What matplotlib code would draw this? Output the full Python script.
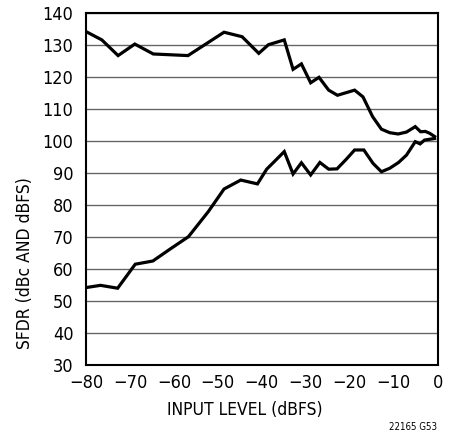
import matplotlib.pyplot as plt

plt.rcParams['font.family'] = ['DejaVu Sans']
plt.rcParams['font.stretch'] = 'condensed'

# SFDR in dBFS (upper trace)
x_dbfs = [-80, -76.4, -72.7, -68.9, -64.7, -56.8, -48.6, -44.5, -40.7, -38.5,
          -34.9, -32.9, -31.0, -28.9, -27.0, -24.8, -22.8, -18.9, -17.0, -14.8,
          -12.8, -10.9, -9.0, -7.1, -5.1, -3.9, -2.8, -1.8, -0.7]
sfdr_dbfs = [134.1, 131.5, 126.6, 130.2, 127.1, 126.6, 133.9, 132.5, 127.3, 130.0,
             131.5, 122.3, 124.0, 118.1, 119.8, 115.8, 114.2, 115.8, 113.7, 107.5,
             103.6, 102.5, 102.1, 102.7, 104.4, 102.8, 102.9, 102.3, 101.3]

# SFDR in dBc (lower trace)
x_dbc = [-80, -76.7, -72.8, -68.8, -64.8, -60.8, -56.7, -52.2, -48.6, -44.8,
         -41.0, -38.9, -37.0, -34.9, -32.9, -31.0, -28.9, -26.8, -24.8, -22.9,
         -20.8, -18.9, -16.8, -14.7, -12.8, -10.9, -8.9, -7.1, -5.1, -4.0,
         -3.0, -0.7]
sfdr_dbc = [54.1, 54.8, 53.9, 61.4, 62.4, 66.2, 70.0, 77.8, 84.9, 87.7,
            86.5, 91.1, 93.7, 96.6, 89.6, 93.1, 89.3, 93.2, 91.1, 91.2,
            94.2, 97.1, 97.1, 92.9, 90.3, 91.4, 93.2, 95.5, 99.7, 99.0,
            100.2, 100.7]

fig = plt.figure(figsize=(4.54, 4.37), dpi=100)
ax = fig.add_axes([86 / 454, 1 - 364.7 / 437, 351.7 / 454, 352 / 437])

ax.plot(x_dbfs, sfdr_dbfs, color='black', lw=2.3, solid_joinstyle='miter')
ax.plot(x_dbc, sfdr_dbc, color='black', lw=2.3, solid_joinstyle='miter')

ax.set_xlim(-80, 0)
ax.set_ylim(30, 140)
ax.set_xticks(range(-80, 1, 10))
ax.set_xticklabels(['\u221280', '\u221270', '\u221260', '\u221250', '\u221240',
                    '\u221230', '\u221220', '\u221210', '0'])
ax.set_yticks(range(30, 141, 10))
ax.grid(axis='y', color='#666666', lw=1.0)
ax.set_axisbelow(True)
ax.tick_params(axis='both', length=0, labelsize=13)
ax.tick_params(axis='y', pad=9)
ax.tick_params(axis='x', pad=7)
for s in ax.spines.values():
    s.set_linewidth(1.5)

fig.text(245 / 454, 1 - 410 / 437, 'INPUT LEVEL (dBFS)', ha='center', va='center',
         fontsize=12.5)
fig.text(25 / 454, 1 - 263 / 437, 'SFDR (dBc AND dBFS)', ha='center', va='center',
         rotation=90, fontsize=12.5)
fig.text(437 / 454, 1 - 427 / 437, '22165 G53', ha='right', va='center', fontsize=7)

plt.savefig('out.png', dpi=100)
